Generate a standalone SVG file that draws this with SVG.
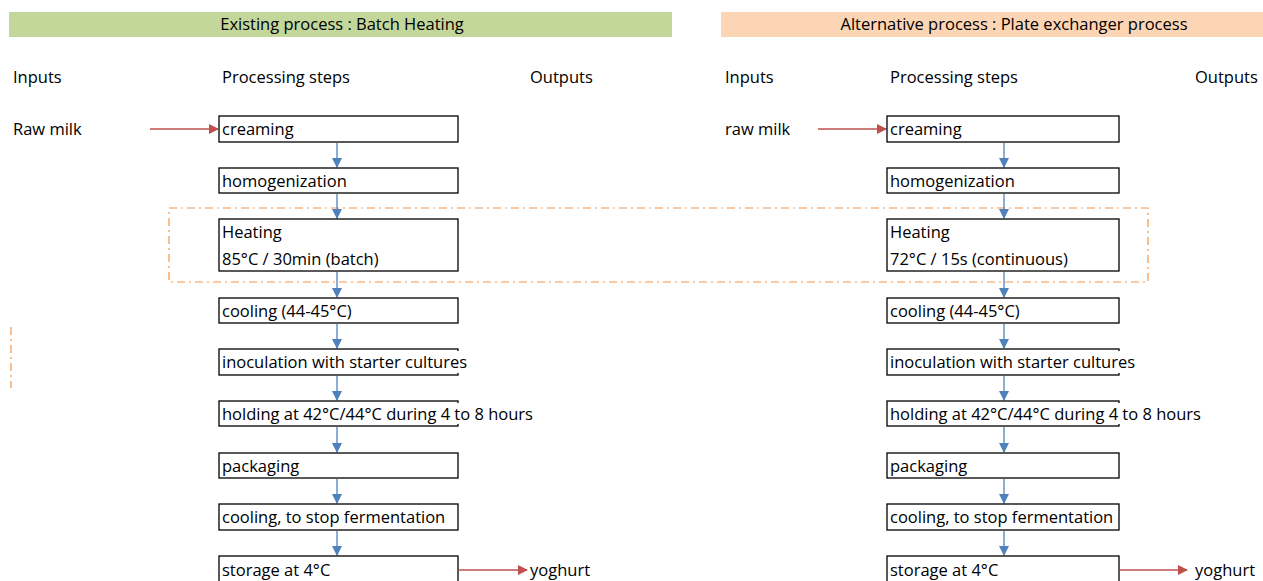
<svg xmlns="http://www.w3.org/2000/svg" width="1263" height="581" viewBox="0 0 1263 581">
<style>
text{font-family:"Open Sans","Liberation Sans",sans-serif;font-size:16.5px;fill:#000}
.box{fill:#fff;stroke:#000;stroke-width:1.3}
.blue{stroke:#4f81bd;stroke-width:1.3;fill:none;marker-end:url(#ab)}
.red{stroke:#c0504d;stroke-width:1.3;fill:none;marker-end:url(#ar)}
.dash{fill:none;stroke:#f79646;stroke-width:1.2;stroke-dasharray:8 4 2 4}
</style>
<defs>
<marker id="ab" markerWidth="10" markerHeight="10" refX="9" refY="5" orient="auto" markerUnits="userSpaceOnUse"><path d="M0,0 L10,5 L0,10 Z" fill="#4f81bd"/></marker>
<marker id="ar" markerWidth="10" markerHeight="10" refX="9" refY="5" orient="auto" markerUnits="userSpaceOnUse"><path d="M0,0 L10,5 L0,10 Z" fill="#c0504d"/></marker>
</defs>
<rect width="1263" height="581" fill="#fff"/>
<g id="banner-left"><rect x="9" y="12" width="663" height="25" fill="#c4d79b"/><text x="342" y="30" text-anchor="middle">Existing process : Batch Heating</text></g>
<g id="banner-right"><rect x="721" y="12" width="542" height="25" fill="#fcd5b4"/><text x="1014" y="30" text-anchor="middle">Alternative process : Plate exchanger process</text></g>
<g id="headers">
<text x="13" y="83">Inputs</text><text x="222" y="83">Processing steps</text><text x="530" y="83">Outputs</text>
<text x="725" y="83">Inputs</text><text x="890" y="83">Processing steps</text><text x="1195" y="83">Outputs</text>
<text x="13" y="135">Raw milk</text><text x="725" y="135">raw milk</text>
<text x="530" y="576">yoghurt</text><text x="1195" y="576">yoghurt</text>
</g>
<g id="connectors">
<rect class="dash" x="169" y="208" width="979" height="74"/>
<line class="dash" x1="11" y1="327" x2="11" y2="388"/>
<line class="red" x1="150" y1="129" x2="218" y2="129"/>
<line class="red" x1="818" y1="129" x2="886" y2="129"/>
<line class="red" x1="459" y1="570" x2="527" y2="570"/>
<line class="red" x1="1120" y1="570" x2="1187" y2="570"/>
<line class="blue" x1="337" y1="143" x2="337" y2="167"/>
<line class="blue" x1="337" y1="194" x2="337" y2="218"/>
<line class="blue" x1="337" y1="272" x2="337" y2="297"/>
<line class="blue" x1="337" y1="324" x2="337" y2="348"/>
<line class="blue" x1="337" y1="376" x2="337" y2="400"/>
<line class="blue" x1="337" y1="427" x2="337" y2="452"/>
<line class="blue" x1="337" y1="479" x2="337" y2="503"/>
<line class="blue" x1="337" y1="531" x2="337" y2="555"/>
<line class="blue" x1="1004" y1="143" x2="1004" y2="167"/>
<line class="blue" x1="1004" y1="194" x2="1004" y2="218"/>
<line class="blue" x1="1004" y1="272" x2="1004" y2="297"/>
<line class="blue" x1="1004" y1="324" x2="1004" y2="348"/>
<line class="blue" x1="1004" y1="376" x2="1004" y2="400"/>
<line class="blue" x1="1004" y1="427" x2="1004" y2="452"/>
<line class="blue" x1="1004" y1="479" x2="1004" y2="503"/>
<line class="blue" x1="1004" y1="531" x2="1004" y2="555"/>
</g>
<g id="left-steps">
<g id="l1"><rect class="box" x="219" y="116" width="239" height="26"/><text x="222" y="135">creaming</text></g>
<g id="l2"><rect class="box" x="219" y="168" width="239" height="25"/><text x="222" y="187">homogenization</text></g>
<g id="l3"><rect class="box" x="219" y="219" width="239" height="52"/><text x="222" y="238">Heating</text><text x="222" y="265">85°C / 30min (batch)</text></g>
<g id="l4"><rect class="box" x="219" y="298" width="239" height="25"/><text x="222" y="317">cooling (44-45°C)</text></g>
<g id="l5"><rect class="box" x="219" y="349" width="239" height="26"/><rect x="456" y="351" width="16" height="22" fill="#fff"/><text x="222" y="368">inoculation with starter cultures</text></g>
<g id="l6"><rect class="box" x="219" y="401" width="239" height="25"/><rect x="456" y="403" width="80" height="21" fill="#fff"/><text x="222" y="420">holding at 42°C/44°C during 4 to 8 hours</text></g>
<g id="l7"><rect class="box" x="219" y="453" width="239" height="25"/><text x="222" y="472">packaging</text></g>
<g id="l8"><rect class="box" x="219" y="504" width="239" height="26"/><text x="222" y="523">cooling, to stop fermentation</text></g>
<g id="l9"><rect class="box" x="219" y="556" width="239" height="30"/><text x="222" y="576">storage at 4°C</text></g>
</g>
<g id="right-steps">
<g id="r1"><rect class="box" x="887" y="116" width="232" height="26"/><text x="890" y="135">creaming</text></g>
<g id="r2"><rect class="box" x="887" y="168" width="232" height="25"/><text x="890" y="187">homogenization</text></g>
<g id="r3"><rect class="box" x="887" y="219" width="232" height="52"/><text x="890" y="238">Heating</text><text x="890" y="265">72°C / 15s (continuous)</text></g>
<g id="r4"><rect class="box" x="887" y="298" width="232" height="25"/><text x="890" y="317">cooling (44-45°C)</text></g>
<g id="r5"><rect class="box" x="887" y="349" width="232" height="26"/><rect x="1117" y="351" width="24" height="22" fill="#fff"/><text x="890" y="368">inoculation with starter cultures</text></g>
<g id="r6"><rect class="box" x="887" y="401" width="232" height="25"/><rect x="1117" y="403" width="88" height="21" fill="#fff"/><text x="890" y="420">holding at 42°C/44°C during 4 to 8 hours</text></g>
<g id="r7"><rect class="box" x="887" y="453" width="232" height="25"/><text x="890" y="472">packaging</text></g>
<g id="r8"><rect class="box" x="887" y="504" width="232" height="26"/><text x="890" y="523">cooling, to stop fermentation</text></g>
<g id="r9"><rect class="box" x="887" y="556" width="232" height="30"/><text x="890" y="576">storage at 4°C</text></g>
</g>
</svg>
